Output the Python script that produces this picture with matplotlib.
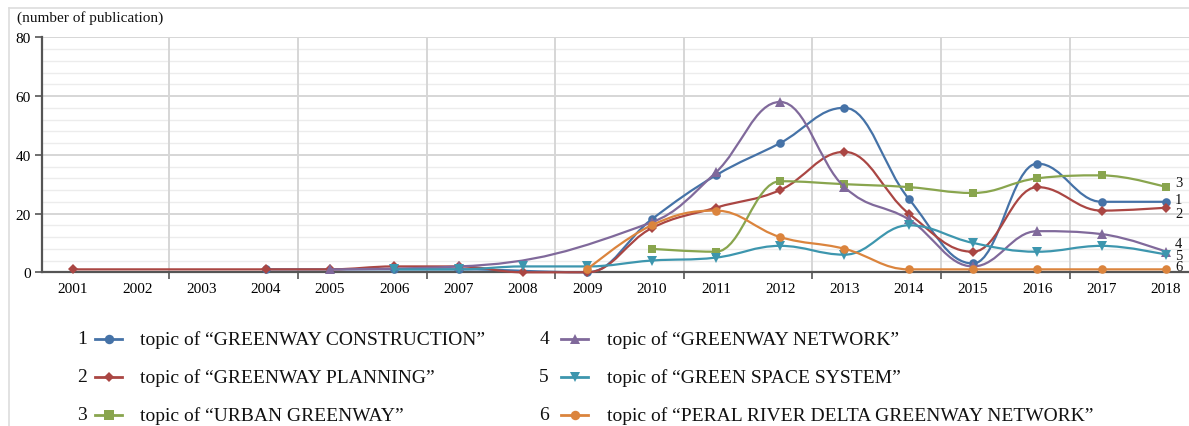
import matplotlib
matplotlib.use("Agg")
import matplotlib.pyplot as plt
from matplotlib.path import Path
from matplotlib.patches import PathPatch
from matplotlib.lines import Line2D
import numpy as np

# ---------------- data ----------------
year_labels = list(range(2001, 2019))

s1_years = [2004, 2006, 2007, 2009, 2010, 2011, 2012, 2013, 2014, 2015, 2016, 2017, 2018]
s1_vals = [1, 1, 1, 0, 18, 33, 44, 56, 25, 3, 37, 24, 24]

s2_years = [2001, 2004, 2005, 2006, 2007, 2008, 2009, 2010, 2011, 2012, 2013, 2014, 2015, 2016, 2017, 2018]
s2_vals = [1, 1, 1, 2, 2, 0, 0, 15, 22, 28, 41, 20, 7, 29, 21, 22]

s3_years = [2010, 2011, 2012, 2013, 2014, 2015, 2016, 2017, 2018]
s3_vals = [8, 7, 31, 30, 29, 27, 32, 33, 29]

s4_years = [2005, 2007, 2010, 2011, 2012, 2013, 2014, 2015, 2016, 2017, 2018]
s4_vals = [1, 2, 17, 34, 58, 29, 18, 2, 14, 13, 7]

s5_years = [2006, 2007, 2008, 2009, 2010, 2011, 2012, 2013, 2014, 2015, 2016, 2017, 2018]
s5_vals = [1, 1, 2, 2, 4, 5, 9, 6, 16, 10, 7, 9, 6]

s6_years = [2009, 2010, 2011, 2012, 2013, 2014, 2015, 2016, 2017, 2018]
s6_vals = [1, 16, 21, 12, 8, 1, 1, 1, 1, 1]

series_names = [
    "topic of \u201cGREENWAY CONSTRUCTION\u201d",
    "topic of \u201cGREENWAY PLANNING\u201d",
    "topic of \u201cURBAN GREENWAY\u201d",
    "topic of \u201cGREENWAY NETWORK\u201d",
    "topic of \u201cGREEN SPACE SYSTEM\u201d",
    "topic of \u201cPERAL RIVER DELTA GREENWAY NETWORK\u201d",
]
series_ids = ["1", "2", "3", "4", "5", "6"]
colors = ["#4572A7", "#AA4643", "#89A54E", "#80699B", "#3D96AE", "#DB843D"]
markers = ["o", "D", "s", "^", "v", "o"]
msizes = [6.2, 5.0, 6.0, 7.0, 7.0, 6.2]

all_years = [s1_years, s2_years, s3_years, s4_years, s5_years, s6_years]
all_vals = [s1_vals, s2_vals, s3_vals, s4_vals, s5_vals, s6_vals]

# end-label pixel offsets (layout, +y = up)
end_offsets = [(9, 2), (9, -6), (9, 5), (9, 8), (9, -1), (9, 3)]

SERIF = ["Liberation Serif", "DejaVu Serif"]


def spline_path(xs, ys, smoothing=1.5):
    """Highcharts-style spline through points, as a bezier path."""
    n = len(xs)
    denom = smoothing + 1
    rc = [None] * n
    lc = [None] * n
    for i in range(1, n - 1):
        x, y = xs[i], ys[i]
        lx, ly = xs[i - 1], ys[i - 1]
        nx, ny = xs[i + 1], ys[i + 1]
        lcx = (smoothing * x + lx) / denom
        lcy = (smoothing * y + ly) / denom
        rcx = (smoothing * x + nx) / denom
        rcy = (smoothing * y + ny) / denom
        corr = ((rcy - lcy) * (rcx - x)) / (rcx - lcx) + y - rcy
        lcy += corr
        rcy += corr
        if lcy > ly and lcy > y:
            lcy = max(ly, y); rcy = 2 * y - lcy
        elif lcy < ly and lcy < y:
            lcy = min(ly, y); rcy = 2 * y - lcy
        if rcy > ny and rcy > y:
            rcy = max(ny, y); lcy = 2 * y - rcy
        elif rcy < ny and rcy < y:
            rcy = min(ny, y); lcy = 2 * y - rcy
        lc[i] = (lcx, lcy)
        rc[i] = (rcx, rcy)
    verts = [(xs[0], ys[0])]
    codes = [Path.MOVETO]
    for i in range(1, n):
        c1 = rc[i - 1] if rc[i - 1] is not None else (xs[i - 1], ys[i - 1])
        c2 = lc[i] if lc[i] is not None else (xs[i], ys[i])
        verts += [c1, c2, (xs[i], ys[i])]
        codes += [Path.CURVE4, Path.CURVE4, Path.CURVE4]
    return Path(verts, codes)


W, H = 1189, 427
fig = plt.figure(figsize=(W / 100, H / 100), dpi=100)
fig.patch.set_facecolor("white")

# outer light frame
fig.add_artist(Line2D([9 / W, 1.0], [1 - 9 / H, 1 - 9 / H], color="#dddddd", lw=1.2, transform=fig.transFigure))
fig.add_artist(Line2D([9 / W, 9 / W], [0, 1 - 9 / H], color="#dddddd", lw=1.2, transform=fig.transFigure))

ax = fig.add_axes([42 / W, 1 - 273.3 / H, (W - 42) / W, (273.3 - 38.3) / H])
ax.set_xlim(2000.52, 2000.52 + (W - 42) / 64.3)
ax.set_ylim(0, 80)

# gridlines
for v in np.arange(0, 81, 4):
    if v % 20 != 0:
        ax.axhline(v, color="#ececec", lw=1.0, zorder=0)
for v in [20, 40, 60, 80]:
    ax.axhline(v, color="#cfcfcf", lw=1.2, zorder=0)
vgrid = np.arange(2002.5, 2018, 2)
for v in vgrid:
    ax.axvline(v, color="#d6d6d6", lw=1.4, zorder=0)

for sp in ["top", "right"]:
    ax.spines[sp].set_visible(False)
ax.spines["left"].set_color("#555555")
ax.spines["left"].set_linewidth(1.6)
ax.spines["bottom"].set_color("#555555")
ax.spines["bottom"].set_linewidth(1.6)

ax.set_yticks([0, 20, 40, 60, 80])
ax.tick_params(axis="y", length=5, width=1.2, color="#555555", labelsize=11, pad=3)
for lab in ax.get_yticklabels():
    lab.set_fontfamily(SERIF)
ax.set_xticks(vgrid)
ax.set_xticklabels([])
ax.tick_params(axis="x", which="major", length=5, width=1.2, color="#555555", direction="out")
ax.set_xticks(year_labels, minor=True)
ax.set_xticklabels([str(y) for y in year_labels], minor=True, fontfamily=SERIF, fontsize=11)
ax.tick_params(axis="x", which="minor", length=0, pad=7)

# series
for i in range(6):
    xs = all_years[i]
    ys = all_vals[i]
    p = spline_path(xs, ys)
    ax.add_patch(PathPatch(p, fill=False, edgecolor=colors[i], lw=1.6, zorder=3 + i, clip_on=False))
    ax.plot(xs, ys, linestyle="none", marker=markers[i], ms=msizes[i], color=colors[i],
            markeredgewidth=0, zorder=3.5 + i, clip_on=False)
    dx, dy = end_offsets[i]
    ax.annotate(series_ids[i], (xs[-1], ys[-1]), xytext=(dx * 0.72, dy * 0.72), textcoords="offset points",
                ha="left", va="center", fontsize=10.5, fontfamily=SERIF, color="#111111")

fig.text(17 / W, 1 - 18 / H, "(number of publication)", fontsize=11, fontfamily=SERIF,
         ha="left", va="center", color="#111111")

# legend (manual)
col_x = [(86, 95, 122, 140), (548, 561, 588, 607)]
row_y = [340, 378, 416]
for i in range(6):
    c = i // 3
    r = i % 3
    nx, lx0, lx1, tx = col_x[c]
    yy = 1 - row_y[r] / H
    fig.text((nx + 1) / W, yy, series_ids[i], fontsize=14, fontfamily=SERIF, ha="right", va="center", color="#111111")
    fig.add_artist(Line2D([lx0 / W, lx1 / W], [yy, yy], color=colors[i], lw=2.0, transform=fig.transFigure))
    fig.add_artist(Line2D([(lx0 + lx1) / 2 / W], [yy], marker=markers[i], ms=msizes[i] * 1.1, color=colors[i],
                          markeredgewidth=0, linestyle="none", transform=fig.transFigure))
    fig.text(tx / W, yy, series_names[i], fontsize=14, fontfamily=SERIF, ha="left", va="center", color="#111111")

fig.savefig("out.png", dpi=100, facecolor="white")
